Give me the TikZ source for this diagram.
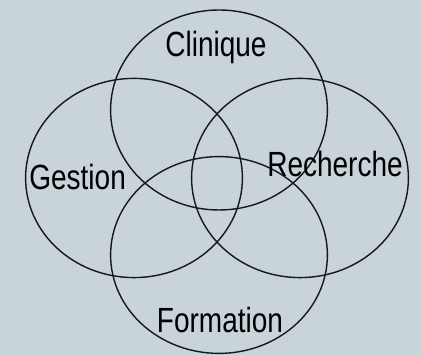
\documentclass[tikz,border=0pt]{standalone}
\usepackage{fontspec}
\usepackage{tikz}
\usetikzlibrary{calc,positioning}
\newfontfamily\vennfont[FakeStretch=0.8]{Liberation Sans}
\definecolor{fondvenn}{RGB}{200,211,218}
\definecolor{traitvenn}{RGB}{24,24,24}
\tikzset{
  domaine/.style={draw=traitvenn,line width=1pt},
  etiquette/.style={anchor=base,inner sep=0pt,font=\vennfont\fontsize{24.9}{28}\selectfont,text=black}
}

\begin{document}
\begin{tikzpicture}
				\fill[fondvenn] (0mm,0mm) rectangle (105.25mm,88.75mm);
				\useasboundingbox (0mm,0mm) rectangle (105.25mm,88.75mm);
				%\draw[color=gray,step=1mm, help lines,opacity=0.3] (0pt,0pt) grid (105mm,88mm); %help grids
				%\draw[color=red,step=5mm, opacity=0.4] (0pt,0pt) grid (105mm,88mm); %help grids
				\draw[domaine] (54.75mm,61.25mm) ellipse [x radius=27.1mm, y radius=25mm];
				\draw[domaine] (33.5mm,44.25mm) ellipse [x radius=27.1mm, y radius=24.9mm];
				\draw[domaine] (75mm,44.25mm) ellipse [x radius=27.1mm, y radius=24.9mm];
				\draw[domaine] (54.75mm,25mm) ellipse [x radius=27.1mm, y radius=24.6mm];
				\node[etiquette] (clinique) at (54mm,74.5mm) {Clinique};
				\node[etiquette] (gestion) at (19.4mm,41.25mm) {Gestion};
				\node[etiquette] (recherche) at (83.75mm,44.5mm) {Recherche};
				\node[etiquette] (formation) at (55mm,5.5mm) {Formation};
\end{tikzpicture}
\end{document}
